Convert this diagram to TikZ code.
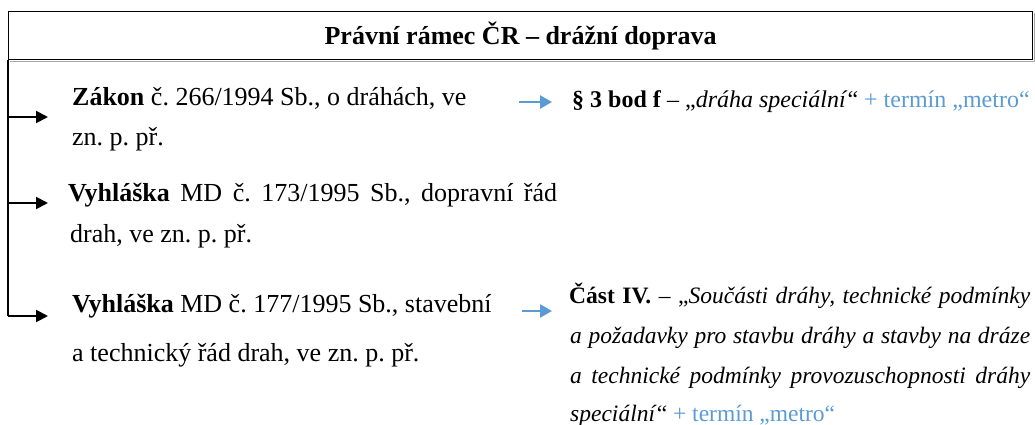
\documentclass[tikz,border=0pt]{standalone}
\usepackage{fontspec}
\setmainfont{Liberation Serif}
\usetikzlibrary{arrows.meta}
\definecolor{mblue}{HTML}{5B9BD5}
\frenchspacing
\tikzset{
  txt/.style={anchor=base west, inner sep=0pt, font=\fontsize{23.5}{28}\selectfont\frenchspacing},
  ltxt/.style={anchor=base west, inner sep=0pt, font=\fontsize{26}{30}\selectfont\frenchspacing},
  blk/.style={line width=2pt, -{Triangle[length=12pt,width=12pt]}},
  blu/.style={draw=mblue, line width=2.5pt, -{Triangle[length=12pt,width=13pt]}, color=mblue},
  frame/.style={line width=1.3pt},
}
\begin{document}
\begin{tikzpicture}[x=1pt,y=-1pt]
\useasboundingbox (0,0) rectangle (1035,425);
\node[draw, frame, minimum width=1024pt, minimum height=48pt, anchor=north west, inner sep=0pt,
      font=\fontsize{26}{30}\selectfont\bfseries] (hdr) at (8,11) {Právní rámec ČR – drážní doprava};
\draw[gray!70, line width=1.2pt] ([shift={(2pt,-1.4pt)}]hdr.south west) -- ([shift={(1.4pt,-1.4pt)}]hdr.south east)
  -- ([shift={(1.4pt,-2pt)}]hdr.north east);
% left items
\node[ltxt] (l1a) at (72,106) {\textbf{Zákon} č. 266/1994 Sb., o dráhách, ve};
\node[ltxt] (l1b) at (72,146) {zn. p. př.};
\node[ltxt] (l2a) at (68,201) {\makebox[489pt][s]{\textbf{Vyhláška} MD č. 173/1995 Sb., dopravní řád}};
\node[ltxt] (l2b) at (70,242) {drah, ve zn. p. př.};
\node[ltxt] (l3a) at (72,312) {\textbf{Vyhláška} MD č. 177/1995 Sb., stavební};
\node[ltxt] (l3b) at (72,361) {a technický řád drah, ve zn. p. př.};
% right items
\node[txt, font=\fontsize{24}{28}\selectfont] (r1) at (572,108) {\textbf{§ 3 bod f} – „\textit{dráha speciální}“ \textcolor{mblue}{+ termín „metro“}};
\node[txt] (r2a) at (569,303) {\makebox[461pt][s]{\textbf{Část IV.} – „\textit{Součásti dráhy, technické podmínky}}};
\node[txt] (r2b) at (570,343) {\makebox[460pt][s]{\itshape a požadavky pro stavbu dráhy a stavby na dráze}};
\node[txt] (r2c) at (570,383) {\makebox[460pt][s]{\itshape a technické podmínky provozuschopnosti dráhy}};
\node[txt] (r2d) at (570,421) {\textit{speciální}“ \textcolor{mblue}{+ termín „metro“}};
% trunk and arrows
\coordinate (tb) at (8,316);
\coordinate (a1) at (8,117);
\coordinate (a2) at (8,203);
\draw[frame] (hdr.south west) -- (tb);
\draw[blk, shorten >=24pt] (a1) -- (a1 -| l1a.west);
\draw[blk, shorten >=20pt] (a2) -- (a2 -| l2a.west);
\draw[blk, shorten >=24pt] (tb) -- (tb -| l3a.west);
\coordinate (b1) at (519,102);
\coordinate (b2) at (522,311);
\draw[blu, shorten >=20pt] (b1) -- (b1 -| r1.west);
\draw[blu, shorten >=17pt] (b2) -- (b2 -| r2a.west);
\end{tikzpicture}
\end{document}
